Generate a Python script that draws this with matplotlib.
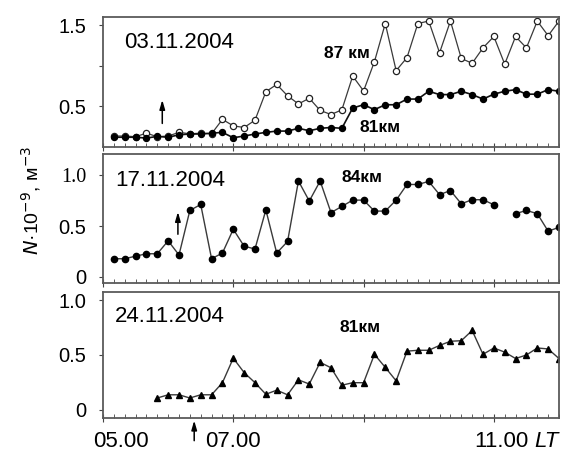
## Biblioteques
import numpy as np
import matplotlib
matplotlib.use("Agg")
import matplotlib.pyplot as plt

plt.rcParams['font.family'] = ['Liberation Sans', 'DejaVu Sans']

## Donnees (pas de 10 min a partir de 05.00 LT)
k_all = np.arange(1, 43)
k_24 = np.arange(5, 43)

n87_0311 = [0.135, 0.135, 0.127, 0.17, 0.127, 0.135, 0.18, 0.163, 0.17, 0.163,
            0.34, 0.26, 0.24, 0.33, 0.68, 0.77, 0.63, 0.53, 0.60, 0.45,
            0.40, 0.457, 0.873, 0.69, 1.05, 1.52, 0.94, 1.10, 1.52, 1.55,
            1.16, 1.55, 1.09, 1.03, 1.22, 1.36, 1.02, 1.36, 1.22, 1.55,
            1.37, 1.55]
n81_0311 = [0.12, 0.12, 0.12, 0.11, 0.13, 0.12, 0.15, 0.16, 0.16, 0.17,
            0.18, 0.114, 0.135, 0.16, 0.18, 0.196, 0.196, 0.23, 0.20, 0.23,
            0.24, 0.23, 0.48, 0.52, 0.46, 0.52, 0.52, 0.59, 0.59, 0.686,
            0.645, 0.645, 0.686, 0.645, 0.59, 0.65, 0.686, 0.706, 0.65, 0.65,
            0.706, 0.686]
n84_1711 = [0.179, 0.179, 0.204, 0.228, 0.228, 0.355, 0.216, 0.654, 0.713, 0.179,
            0.235, 0.469, 0.302, 0.275, 0.66, 0.235, 0.349, 0.944, 0.747, 0.944,
            0.633, 0.694, 0.756, 0.756, 0.648, 0.648, 0.756, 0.91, 0.91, 0.94,
            0.81, 0.85, 0.72, 0.76, 0.76, 0.71, np.nan, 0.623, 0.654, 0.623,
            0.45, 0.488]
n81_2411 = [0.109, 0.138, 0.138, 0.109, 0.138, 0.138,
            0.248, 0.471, 0.34, 0.248, 0.143, 0.18, 0.138, 0.274, 0.236, 0.433,
            0.384, 0.225, 0.248, 0.248, 0.506, 0.387, 0.265, 0.535, 0.543, 0.543,
            0.587, 0.625, 0.63, 0.723, 0.506, 0.564, 0.526, 0.468, 0.5, 0.564,
            0.555, 0.468]

dates = ["03.11.2004", "17.11.2004", "24.11.2004"]
x_major = [5, 7, 9, 11]

t_all = 5 + k_all / 6.0
t_24 = 5 + k_24 / 6.0

## Figure
W, H = 561, 455
fig = plt.figure(figsize=(W / 100, H / 100), dpi=100)

def box(top, bottom, left=103, right=559):
    return [left / W, 1 - bottom / H, (right - left) / W, (bottom - top) / H]

ax1 = fig.add_axes(box(17, 147))
ax2 = fig.add_axes(box(154, 283))
ax3 = fig.add_axes(box(292, 418))

lc = '#3a3a3a'
arrow = dict(arrowstyle='-|>,head_length=0.55,head_width=0.16', color='black', lw=1.1,
             shrinkA=0, shrinkB=0)

for ax in (ax1, ax2, ax3):
    ax.set_xlim(5, 12)
    for s in ax.spines.values():
        s.set_color('#5a5a5a')
        s.set_linewidth(1.3)
    ax.set_xticks(x_major)
    ax.set_xticks(np.arange(5, 12.01, 1 / 6.0), minor=True)
    ax.tick_params(axis='x', which='major', direction='inout', length=6, width=0.8, colors='#444')
    ax.tick_params(axis='x', which='minor', direction='in', length=3, width=0.6, colors='#444')
    ax.tick_params(axis='y', which='major', direction='out', length=3, width=0.8,
                   colors='#444', labelcolor='black', labelsize=14.5, pad=9)
    ax.set_xticklabels([])

## 03.11.2004
ax1.plot(t_all, n87_0311, '-o', color=lc, lw=0.9, ms=4.5, mfc='white', mec='#222', mew=0.9)
ax1.plot(t_all, n81_0311, '-o', color='#111', lw=1.2, ms=4.3, mfc='black', mec='black')
ax1.set_ylim(0, 1.6)
ax1.set_yticks([0.5, 1.0, 1.5])
ax1.set_yticklabels(['0.5', '', '1.5'])
ax1.annotate('', xy=(5.91, 0.58), xytext=(5.91, 0.29), arrowprops=arrow)
fig.text(124 / W, 1 - 42 / H, dates[0], fontsize=16, va='center')
fig.text(324 / W, 1 - 53 / H, '87 км', fontsize=12.5, fontweight='bold', va='center')
fig.text(360 / W, 1 - 127 / H, '81км', fontsize=12.5, fontweight='bold', va='center')

## 17.11.2004
ax2.plot(t_all, n84_1711, '-o', color=lc, lw=1.0, ms=4.5, mfc='black', mec='black')
ax2.set_ylim(-0.06, 1.21)
ax2.set_yticks([0, 0.5, 1.0])
ax2.set_yticklabels(['0', '0.5', '1.0'])
ax2.get_yticklabels()[2].set_fontfamily('Liberation Serif')
ax2.annotate('', xy=(6.15, 0.64), xytext=(6.15, 0.42), arrowprops=arrow)
fig.text(115 / W, 1 - 181 / H, dates[1], fontsize=16, va='center')
fig.text(342 / W, 1 - 178 / H, '84км', fontsize=12.5, fontweight='bold', va='center')

## 24.11.2004
ax3.plot(t_24, n81_2411, '-^', color=lc, lw=1.0, ms=4, mfc='black', mec='black')
ax3.set_ylim(-0.073, 1.073)
ax3.set_yticks([0, 0.5, 1.0])
ax3.set_yticklabels(['0', '0.5', '1.0'])
ax3.annotate('', xy=(6.40, -0.02), xytext=(6.40, -0.18),
             xycoords=('data', 'axes fraction'), textcoords=('data', 'axes fraction'),
             annotation_clip=False, arrowprops=arrow)
fig.text(115 / W, 1 - 317 / H, dates[2], fontsize=16, va='center')
fig.text(340 / W, 1 - 327 / H, '81км', fontsize=12.5, fontweight='bold', va='center')

# etiquettes de l'axe du temps
xt = ax3.get_xaxis_transform()
ax3.text(5.27, -0.19, '05.00', transform=xt, fontsize=16, ha='center', va='center')
ax3.text(7.0, -0.19, '07.00', transform=xt, fontsize=16, ha='center', va='center')
ax3.text(11.11, -0.19, '11.00', transform=xt, fontsize=16, ha='center', va='center')
ax3.text(11.99, -0.19, 'LT', transform=xt, fontsize=16, ha='right', va='center', style='italic')

## axe vertical
fig.text(31 / W, 1 - 200 / H, r'$\it{N}$·10$^{-9}$, м$^{-3}$', rotation=90, fontsize=14,
         ha='center', va='center')

fig.savefig('out.png', dpi=100)
